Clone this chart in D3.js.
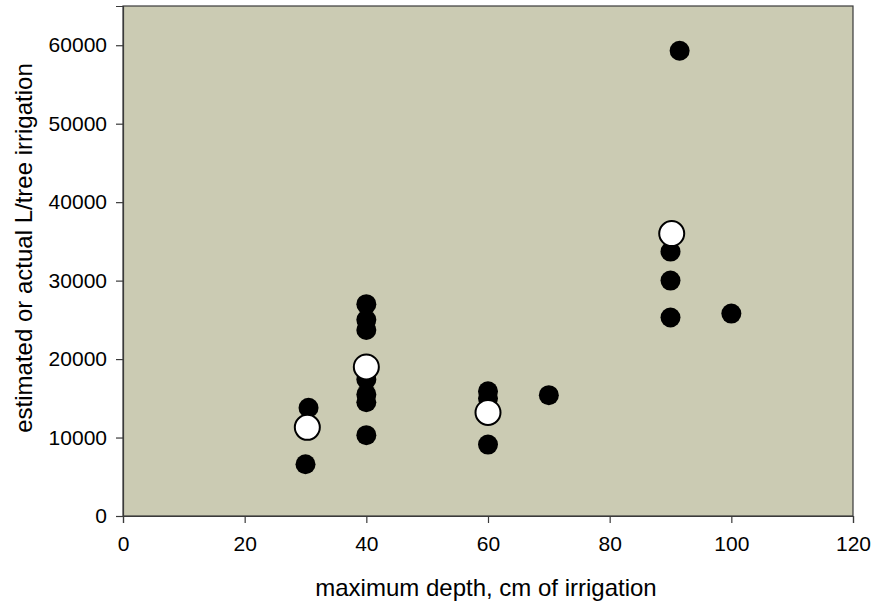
<!DOCTYPE html>
<html>
<head>
<meta charset="utf-8">
<script src="https://cdn.jsdelivr.net/npm/d3@7"></script>
<style>
  html, body { margin: 0; padding: 0; background: #ffffff; }
  svg { display: block; font-family: "Liberation Sans", Arial, sans-serif; }
</style>
</head>
<body>
<svg id="chart" width="873" height="601"></svg>
<script>
// Individual trees: maximum wetting depth (cm) vs. litres of irrigation per tree
const depthObserved = [30, 30.5, 40, 40, 40, 40, 40, 40, 40, 60, 60, 60, 70, 90, 90, 90, 91.5, 100];
const litresObserved = [6600, 13800, 27000, 25000, 23700, 17400, 15500, 14500, 10300, 15900, 15000, 9100, 15400, 33700, 30000, 25300, 59300, 25800];

// Estimated irrigation for each depth class
const depthEstimated = [30.3, 40, 60, 90.2];
const litresEstimated = [11300, 19000, 13200, 36000];

const xTicks = [0, 20, 40, 60, 80, 100, 120];
const yTicks = [0, 10000, 20000, 30000, 40000, 50000, 60000];

const xTitle = "maximum depth, cm of irrigation";
const yTitle = "estimated or actual L/tree irrigation";

const margin = { top: 6, right: 20, bottom: 85, left: 123 };
const width = 873, height = 601;
const innerW = width - margin.left - margin.right;
const innerH = height - margin.top - margin.bottom;

const svg = d3.select("#chart");
const g = svg.append("g").attr("transform", `translate(${margin.left},${margin.top})`);

const x = d3.scaleLinear().domain([0, 120]).range([0, innerW]);
const y = d3.scaleLinear().domain([0, 65000]).range([innerH, 0]);

// plot background
g.append("rect")
  .attr("x", 0).attr("y", 0)
  .attr("width", innerW).attr("height", innerH)
  .attr("fill", "#cbcbb3")
  .attr("stroke", "#3a3a3a")
  .attr("stroke-width", 1.2);

// axes
const xAxis = g.append("g")
  .attr("transform", `translate(0,${innerH})`)
  .call(d3.axisBottom(x).tickValues(xTicks).tickSize(7).tickPadding(13).tickFormat(d3.format("d")));
const yAxis = g.append("g")
  .call(d3.axisLeft(y).tickValues(yTicks).tickSize(7).tickPadding(9).tickFormat(d3.format("d")));

[xAxis, yAxis].forEach(a => {
  a.select(".domain").attr("stroke", "#3a3a3a").attr("stroke-width", 1.2);
  a.selectAll(".tick line").attr("stroke", "#3a3a3a").attr("stroke-width", 1.2);
  a.selectAll(".tick text")
    .attr("fill", "#000")
    .style("font-family", "'Liberation Sans', Arial, sans-serif")
    .style("font-size", "21px");
});

// observed points
g.append("g").selectAll("circle")
  .data(depthObserved.map((d, i) => [d, litresObserved[i]]))
  .join("circle")
  .attr("cx", d => x(d[0]))
  .attr("cy", d => y(d[1]))
  .attr("r", 10)
  .attr("fill", "#000");

// estimated points
g.append("g").selectAll("circle")
  .data(depthEstimated.map((d, i) => [d, litresEstimated[i]]))
  .join("circle")
  .attr("cx", d => x(d[0]))
  .attr("cy", d => y(d[1]))
  .attr("r", 12.5)
  .attr("fill", "#fff")
  .attr("stroke", "#000")
  .attr("stroke-width", 2);

// axis titles
svg.append("text")
  .attr("x", margin.left + innerW / 2 - 2)
  .attr("y", 596)
  .attr("text-anchor", "middle")
  .style("font-size", "24px")
  .text(xTitle);

svg.append("text")
  .attr("transform", "translate(32,248) rotate(-90)")
  .attr("text-anchor", "middle")
  .style("font-size", "24px")
  .text(yTitle);
</script>
</body>
</html>
